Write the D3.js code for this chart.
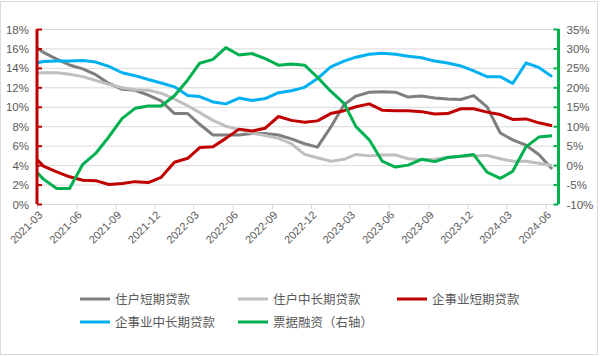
<!DOCTYPE html>
<html><head><meta charset="utf-8">
<script src="https://cdn.jsdelivr.net/npm/d3@7"></script>
<style>
html,body{margin:0;padding:0;background:#fff;}
svg{display:block;}
text{font-family:"Liberation Sans",Arial,"Noto Sans CJK SC",sans-serif;}
.cjk{font-family:"Noto Sans CJK SC","Liberation Sans",sans-serif;}
</style></head><body>
<svg id="chart" width="600" height="356"></svg>
<script>
// Monthly observations (2021-02 lies just left of the axis and is clipped, as in the original)
const months = ["2021-02","2021-03","2021-04","2021-05","2021-06","2021-07","2021-08","2021-09","2021-10","2021-11","2021-12",
  "2022-01","2022-02","2022-03","2022-04","2022-05","2022-06","2022-07","2022-08","2022-09","2022-10","2022-11","2022-12",
  "2023-01","2023-02","2023-03","2023-04","2023-05","2023-06","2023-07","2023-08","2023-09","2023-10","2023-11","2023-12",
  "2024-01","2024-02","2024-03","2024-04","2024-05","2024-06"];
const tickLabels = ["2021-03","2021-06","2021-09","2021-12","2022-03","2022-06","2022-09","2022-12","2023-03","2023-06","2023-09","2023-12","2024-03","2024-06"];
const householdShort = [16.4,15.6,14.9,14.3,13.9,13.3,12.4,11.8,11.7,11.2,10.6,
  9.3,9.3,8.2,7.1,7.1,7.1,7.25,7.25,7.1,6.7,6.2,5.85,
  7.9,10.2,11.1,11.5,11.55,11.5,11.0,11.1,10.9,10.8,10.75,11.15,
  10.0,7.3,6.6,6.05,5.1,3.6];
const householdLong = [13.4,13.5,13.5,13.35,13.1,12.7,12.3,11.95,11.75,11.7,11.4,
  10.8,10.1,9.4,8.6,8.0,7.65,7.3,7.05,6.75,6.2,5.1,4.75,
  4.4,4.6,5.1,4.95,5.05,5.05,4.65,4.55,4.6,4.8,4.9,4.95,
  5.0,4.65,4.4,4.4,4.2,3.95];
const corpShort = [5.2,3.9,3.3,2.8,2.45,2.4,2.0,2.1,2.3,2.2,2.75,
  4.3,4.7,5.8,5.9,6.75,7.7,7.5,7.8,9.0,8.6,8.4,8.55,
  9.3,9.6,10.0,10.3,9.65,9.6,9.6,9.5,9.25,9.3,9.8,9.8,
  9.45,9.2,8.7,8.75,8.35,8.05];
const corpLong = [14.4,14.65,14.7,14.72,14.75,14.6,14.15,13.5,13.2,12.8,12.45,
  12.05,11.15,11.05,10.5,10.3,10.9,10.65,10.85,11.45,11.65,12.0,12.9,
  14.1,14.7,15.1,15.4,15.5,15.4,15.2,15.05,14.7,14.5,14.2,13.7,
  13.1,13.1,12.4,14.5,14.05,13.1];
const billFinancing = [-0.4,-3.6,-6.0,-6.0,0.2,3.0,7.3,12.0,14.6,15.2,15.2,
  17.85,21.9,26.2,27.2,30.2,28.3,28.7,27.4,25.7,26.0,25.7,22.6,
  19.0,15.9,9.9,6.5,1.05,-0.5,0.0,1.5,0.9,1.95,2.3,2.7,
  -1.8,-3.4,-1.6,4.7,7.2,7.55];
const leftTicks = [0,2,4,6,8,10,12,14,16,18];
const rightTicks = [-10,-5,0,5,10,15,20,25,30,35];
const seriesNames = ["住户短期贷款","住户中长期贷款","企事业短期贷款","企事业中长期贷款","票据融资（右轴）"];
const seriesColors = ["#7f7f7f","#bfbfbf","#c00000","#00b0f0","#00b050"];

const svg = d3.select("#chart");
const x0 = 37, x1 = 558.5, yTop = 29, yBot = 204;
const parseMid = s => { const [y,m] = s.split("-").map(Number); return new Date(y, m-1, 16); };
const parseStart = s => { const [y,m] = s.split("-").map(Number); return new Date(y, m-1, 1); };
const x = d3.scaleTime().domain([new Date(2021,2,1), new Date(2024,6,1)]).range([x0, x1]);
const yL = d3.scaleLinear().domain([0,18]).range([yBot, yTop]);
const yR = d3.scaleLinear().domain([-10,35]).range([yBot, yTop]);

// border
svg.append("rect").attr("x",0.5).attr("y",1.5).attr("width",597).attr("height",353)
  .attr("fill","#fff").attr("stroke","#d9d9d9");

// gridlines
svg.append("g").selectAll("line").data(leftTicks.filter(d=>d>0)).join("line")
  .attr("x1",x0).attr("x2",x1).attr("y1",d=>yL(d)+0.5).attr("y2",d=>yL(d)+0.5)
  .attr("stroke","#d9d9d9").attr("stroke-width",1);

// x axis
const xAxisG = svg.append("g").attr("transform",`translate(0,${yBot})`)
  .call(d3.axisBottom(x).tickValues(tickLabels.map(parseStart)).tickSize(5).tickFormat((d,i)=>tickLabels[i]));
xAxisG.select(".domain").attr("stroke","#d9d9d9").attr("d",`M${x0},0.5H${x1}`);
xAxisG.selectAll(".tick line").attr("stroke","#d9d9d9");
xAxisG.selectAll(".tick text").attr("fill","#595959").attr("font-size",11)
  .attr("text-anchor","end").attr("dy",0).attr("y",0)
  .attr("transform","translate(3,9) rotate(-45)");

// clip
svg.append("clipPath").attr("id","plotclip").append("rect")
  .attr("x",x0).attr("y",0).attr("width",x1-x0).attr("height",356);

const series = [householdShort, householdLong, corpShort, corpLong, billFinancing];
const lines = svg.append("g").attr("clip-path","url(#plotclip)");
series.forEach((vals,si)=>{
  const ys = si===4 ? yR : yL;
  const line = d3.line().x((d,i)=>x(parseMid(months[i]))).y(d=>ys(d));
  lines.append("path").datum(vals).attr("d",line).attr("fill","none")
    .attr("stroke",seriesColors[si]).attr("stroke-width",3).attr("stroke-linejoin","round");
});

// left axis
const lAx = svg.append("g").attr("transform",`translate(${x0},0)`)
  .call(d3.axisRight(yL).tickValues(leftTicks).tickSize(5).tickFormat(d=>d+"%"));
lAx.select(".domain").attr("stroke","#c00000").attr("stroke-width",3).attr("d",`M0,${yTop}V${yBot}`);
lAx.selectAll(".tick line").attr("stroke","#c00000").attr("stroke-width",2);
lAx.selectAll(".tick text").attr("x",-8).attr("text-anchor","end").attr("fill","#595959").attr("font-size",11.5);

// right axis
const rAx = svg.append("g").attr("transform",`translate(${x1},0)`)
  .call(d3.axisLeft(yR).tickValues(rightTicks).tickSize(5).tickFormat(d=>d+"%"));
rAx.select(".domain").attr("stroke","#00b050").attr("stroke-width",3).attr("d",`M0,${yTop}V${yBot}`);
rAx.selectAll(".tick line").attr("stroke","#00b050").attr("stroke-width",2);
rAx.selectAll(".tick text").attr("x",8).attr("text-anchor","start").attr("fill","#595959").attr("font-size",11.5);
svg.selectAll(".tick text").attr("dy","0.35em");
xAxisG.selectAll(".tick text").attr("dy","0.35em");

// legend
const legendPos = [[80,299],[238,299],[397,299],[80,322],[238,322]];
const lg = svg.append("g");
seriesNames.forEach((n,i)=>{
  const [lx,ly] = legendPos[i];
  lg.append("line").attr("x1",lx).attr("x2",lx+30).attr("y1",ly).attr("y2",ly)
    .attr("stroke",seriesColors[i]).attr("stroke-width",3);
  lg.append("text").attr("class","cjk").attr("x",lx+35).attr("y",ly).attr("dy","0.36em")
    .attr("font-size",12.5).attr("fill","#595959").text(n);
});
</script></body></html>
